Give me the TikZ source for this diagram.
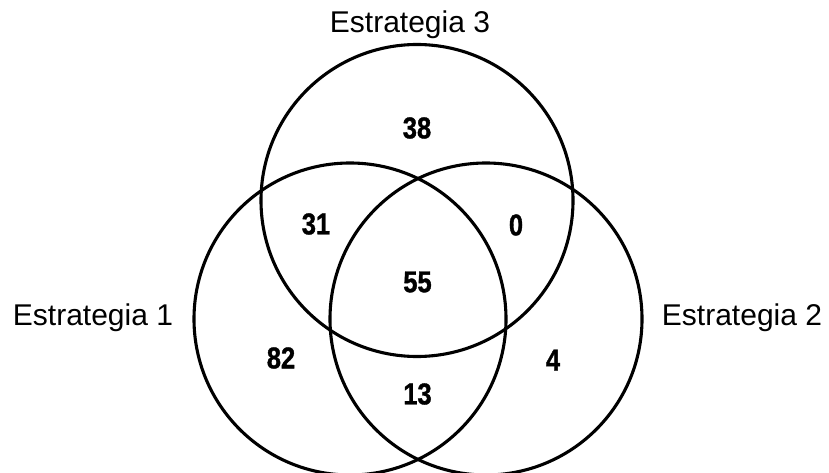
\documentclass[tikz,border=0pt]{standalone}
\usepackage{fontspec}
\setmainfont{Liberation Sans}
\newfontfamily\numfont[FakeStretch=0.85,FakeBold=1.2]{Liberation Sans}
\usepackage{tikz}
\tikzset{
  ring/.style = {line width=3.1pt},
  setname/.style = {anchor=base, font=\fontsize{30}{36}\selectfont},
  count/.style = {font=\numfont\bfseries\fontsize{30}{36}\selectfont}
}

\begin{document}
\begin{tikzpicture}[x=1pt, y=1pt]
  \useasboundingbox (0,0) rectangle (829,472);

  % parameters
  \def\r{156}     % radius of every circle
  \def\d{68}      % half distance of the lower centres
  \def\yl{153}    % height of the lower centres
  \def\yt{271.5}  % height of the upper centre

  \coordinate (E1) at (418-\d, \yl);
  \coordinate (E2) at (418+\d, \yl);
  \coordinate (E3) at (417, \yt);

  % the three circles
  \draw[ring] (E1) circle (\r);
  \draw[ring] (E2) circle (\r);
  \draw[ring] (E3) circle (\r);

  % names of the sets
  \node[setname] (n3) at (410, 439) {Estrategia 3};
  \node[setname] (n1) at (93, 147) {Estrategia 1};
  \node[setname] (n2) at (742, 147) {Estrategia 2};

  % counts
  \node[count] (a3) at (417, 344) {38};
  \node[count] (a13) at (316, 248) {31};
  \node[count] (a23) at (516, 247) {0};
  \node[count] (a123) at (417.5, 190) {55};
  \node[count] (a1) at (281, 114) {82};
  \node[count] (a2) at (553, 112) {4};
  \node[count] (a12) at (417.5, 78) {13};
\end{tikzpicture}
\end{document}
